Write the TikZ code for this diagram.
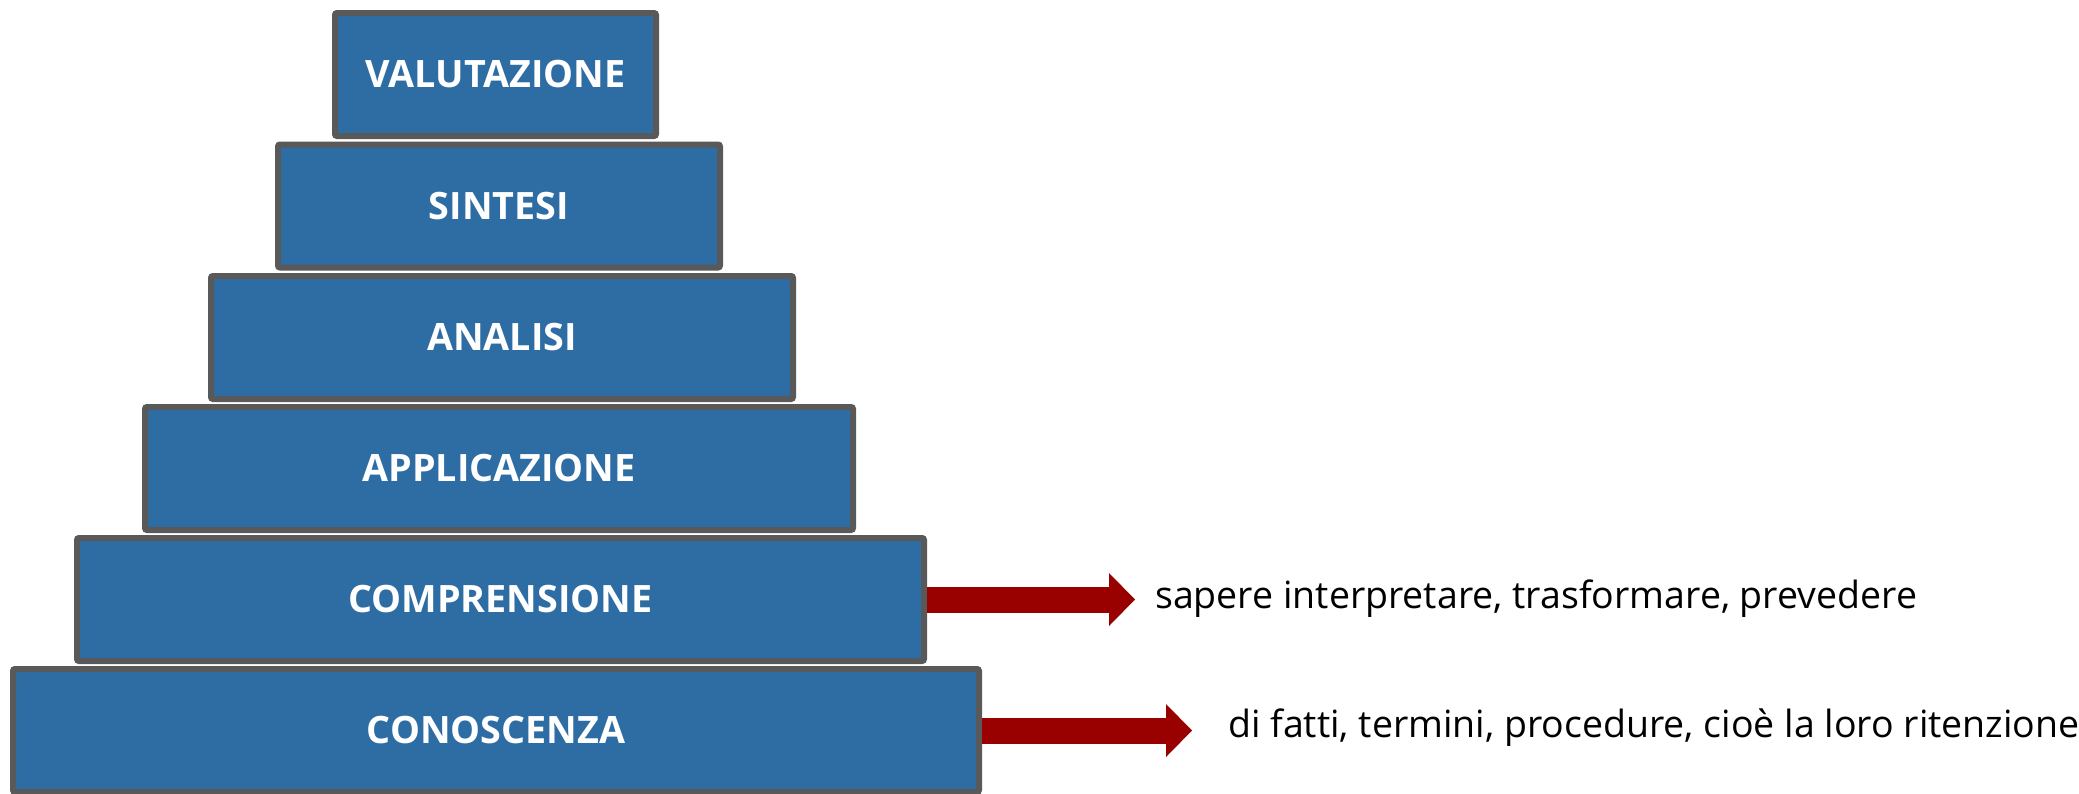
\documentclass[tikz,border=0pt]{standalone}
\usepackage{fontspec}
\setmainfont{Open Sans}
\usepackage{tikz}
\usetikzlibrary{arrows.meta,positioning}
\definecolor{levelblue}{RGB}{46,109,164}
\definecolor{levelgray}{RGB}{89,89,89}
\definecolor{pointerred}{RGB}{153,0,0}

\begin{document}
\begin{tikzpicture}[x=1pt,y=-1pt,
    level/.style={draw=levelgray, line width=6pt, fill=levelblue, rounded corners=2pt,
      text=white, font=\fontsize{37.7}{45}\selectfont\bfseries, inner sep=0pt,
      minimum height=123pt},
    pointer/.style={pointerred, line width=26pt,
      -{Triangle[length=26pt,width=53pt,line width=0pt]}},
    note/.style={anchor=base west, inner sep=0pt, font=\fontsize{37.5}{45}\selectfont}]
    \useasboundingbox (0,0) rectangle (2079,793);

    % Pyramid levels
    \node[level, minimum width=321pt] (val)  at (495.5,74.5)  {VALUTAZIONE};
    \node[level, minimum width=442pt] (sin)  at (499,206)     {SINTESI};
    \node[level, minimum width=582pt] (ana)  at (502,337.5)   {ANALISI};
    \node[level, minimum width=708pt] (app)  at (499,468.5)   {APPLICAZIONE};
    \node[level, minimum width=847pt] (comp) at (500.5,599.5) {COMPRENSIONE};
    \node[level, minimum width=966pt] (con)  at (496,730.5)   {CONOSCENZA};

    % Pointers to the notes
    \coordinate (comptip) at (1135,599.5);
    \coordinate (contip)  at (1192,730.5);
    \draw[pointer] (comp.east) -- (comptip);
    \draw[pointer] (con.east) -- (contip);

    % Notes
    \node[note] (compnote) at (1155,608) {sapere interpretare, trasformare, prevedere};
    \node[note] (connote)  at (1228,737) {di fatti, termini, procedure, cioè la loro ritenzione};
\end{tikzpicture}
\end{document}
